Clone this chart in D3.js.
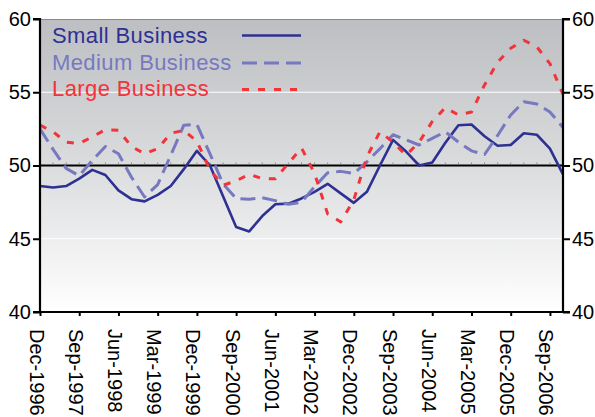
<!DOCTYPE html>
<html>
<head>
<meta charset="utf-8">
<script src="https://cdn.jsdelivr.net/npm/d3@7"></script>
<style>
  html, body { margin: 0; padding: 0; background: #ffffff; }
  svg { display: block; font-family: "Liberation Sans", Arial, sans-serif; }
</style>
</head>
<body>
<svg id="chart" width="595" height="417"></svg>
<script>
// ---- data ----
const seriesNames = ["Small Business", "Medium Business", "Large Business"];

const smallBusiness = [48.6, 48.5, 48.6, 49.1, 49.7, 49.35, 48.3, 47.7, 47.55, 48.0,
  48.6, 49.75, 51.0, 50.0, 47.9, 45.8, 45.5, 46.55, 47.35, 47.4,
  47.75, 48.2, 48.75, 48.1, 47.45, 48.2, 50.0, 51.75, 50.95, 50.0,
  50.2, 51.55, 52.75, 52.8, 52.0, 51.35, 51.4, 52.2, 52.1, 51.15, 49.4];

const mediumBusiness = [52.5, 51.1, 49.8, 49.3, 50.35, 51.3, 50.8, 49.2, 47.85, 48.7,
  50.7, 52.75, 52.8, 50.8, 48.75, 47.75, 47.7, 47.8, 47.6, 47.35,
  47.5, 48.55, 49.5, 49.6, 49.45, 50.25, 51.15, 52.1, 51.75, 51.4,
  51.85, 52.3, 51.6, 51.0, 50.75, 52.05, 53.45, 54.35, 54.2, 53.65, 52.6];

const largeBusiness = [52.75, 52.3, 51.6, 51.5, 51.95, 52.45, 52.4, 51.3, 50.8, 51.15,
  52.2, 52.4, 51.65, 49.7, 48.65, 48.95, 49.4, 49.1, 49.1, 50.15,
  51.2, 49.45, 46.7, 46.15, 47.65, 50.6, 52.3, 51.6, 50.7, 51.6,
  53.0, 53.95, 53.45, 53.65, 55.5, 57.05, 58.0, 58.55, 58.1, 56.95, 54.85];

const tickLabels = ["Dec-1996", "Sep-1997", "Jun-1998", "Mar-1999", "Dec-1999",
  "Sep-2000", "Jun-2001", "Mar-2002", "Dec-2002", "Sep-2003", "Jun-2004",
  "Mar-2005", "Dec-2005", "Sep-2006"];

const yTicks = [40, 45, 50, 55, 60];

// quarterly categories Dec-1996 .. Dec-2006
const monthNames = ["Dec", "Mar", "Jun", "Sep"];
const categories = [];
for (let i = 0; i < smallBusiness.length; i++) {
  const m = monthNames[i % 4];
  const yr = 1996 + Math.ceil(i / 4);
  categories.push(m + "-" + yr);
}

const colors = ["#2e3192", "#7679c0", "#f2333a"];
const dashes = [null, "15,7", "7,9"];
const widths = [2.6, 3, 3];
const seriesData = [smallBusiness, mediumBusiness, largeBusiness];

// ---- layout ----
const L = 40, R = 563, T = 19, B = 312;
const svg = d3.select("#chart");

const x = d3.scalePoint().domain(categories).range([L, R]);
const y = d3.scaleLinear().domain([40, 60]).range([B, T]);

// gradient background
const defs = svg.append("defs");
const grad = defs.append("linearGradient").attr("id", "bg")
  .attr("x1", 0).attr("y1", 0).attr("x2", 0).attr("y2", 1);
grad.append("stop").attr("offset", "0%").attr("stop-color", "#bdbec1");
grad.append("stop").attr("offset", "50%").attr("stop-color", "#dbdcde");
grad.append("stop").attr("offset", "100%").attr("stop-color", "#ffffff");

svg.append("rect").attr("x", L).attr("y", T).attr("width", R - L).attr("height", B - T)
  .attr("fill", "url(#bg)");

// top border
svg.append("line").attr("x1", L).attr("x2", R).attr("y1", T + 0.5).attr("y2", T + 0.5)
  .attr("stroke", "#8a8a8a").attr("stroke-width", 1.2);

// white gridlines
svg.selectAll(".grid").data([45, 55]).enter().append("line")
  .attr("x1", L).attr("x2", R).attr("y1", d => y(d)).attr("y2", d => y(d))
  .attr("stroke", "#ffffff").attr("stroke-width", 1.2);

// 50 line
svg.append("line").attr("x1", L).attr("x2", R).attr("y1", y(50)).attr("y2", y(50))
  .attr("stroke", "#000").attr("stroke-width", 2);
// minor ticks on 50 line
svg.selectAll(".minor").data(categories).enter().append("line")
  .attr("x1", d => x(d)).attr("x2", d => x(d))
  .attr("y1", y(50) - 1).attr("y2", y(50) - 3)
  .attr("stroke", "#8a8a8a").attr("stroke-width", 1);

// series lines
const lineGen = d3.line().x((d, i) => x(categories[i])).y(d => y(d));
seriesData.forEach((s, k) => {
  svg.append("path").datum(s)
    .attr("d", lineGen)
    .attr("fill", "none")
    .attr("stroke", colors[k])
    .attr("stroke-width", widths[k])
    .attr("stroke-linejoin", "round")
    .attr("stroke-dasharray", dashes[k]);
});

// axes
const leftAxis = d3.axisLeft(y).tickValues(yTicks).tickSize(7).tickPadding(2).tickFormat(d3.format("d"));
const rightAxis = d3.axisRight(y).tickValues(yTicks).tickSize(7).tickPadding(2).tickFormat(d3.format("d"));
const bottomAxis = d3.axisBottom(x).tickValues(tickLabels).tickSize(4).tickSizeOuter(0);

function styleAxis(g) {
  g.select(".domain").attr("stroke", "#000").attr("stroke-width", 2.2);
  g.selectAll(".tick line").attr("stroke", "#000").attr("stroke-width", 2);
  g.selectAll("text").attr("fill", "#000").style("font-size", "20px")
    .style("font-family", "'Liberation Sans', Arial, sans-serif");
}

const gL = svg.append("g").attr("transform", `translate(${L},0)`).call(leftAxis);
gL.select(".domain").attr("d", `M-7,${T}H0V${B}H-7`);
styleAxis(gL);

const gR = svg.append("g").attr("transform", `translate(${R},0)`).call(rightAxis);
gR.select(".domain").attr("d", `M7,${T}H0V${B}H7`);
styleAxis(gR);

const gB = svg.append("g").attr("transform", `translate(0,${B})`).call(bottomAxis);
gB.select(".domain").attr("d", `M${L},0H${R}`);
styleAxis(gB);
gB.selectAll(".tick text")
  .attr("transform", "rotate(90)")
  .attr("x", 17)
  .attr("y", 11)
  .attr("dy", "0")
  .style("text-anchor", "start")
  .style("font-size", "20px");

// legend
const legend = svg.append("g");
const legY = [43, 69.5, 95.5];
const legLineY = [35.5, 63, 89.5];
seriesNames.forEach((name, k) => {
  legend.append("text").attr("x", 52).attr("y", legY[k])
    .attr("fill", colors[k]).style("font-size", "22px")
    .style("letter-spacing", "0.4px").text(name);
  legend.append("line").attr("x1", 242).attr("x2", 301)
    .attr("y1", legLineY[k]).attr("y2", legLineY[k])
    .attr("stroke", colors[k]).attr("stroke-width", widths[k])
    .attr("stroke-dasharray", dashes[k]);
});
</script>
</body>
</html>
